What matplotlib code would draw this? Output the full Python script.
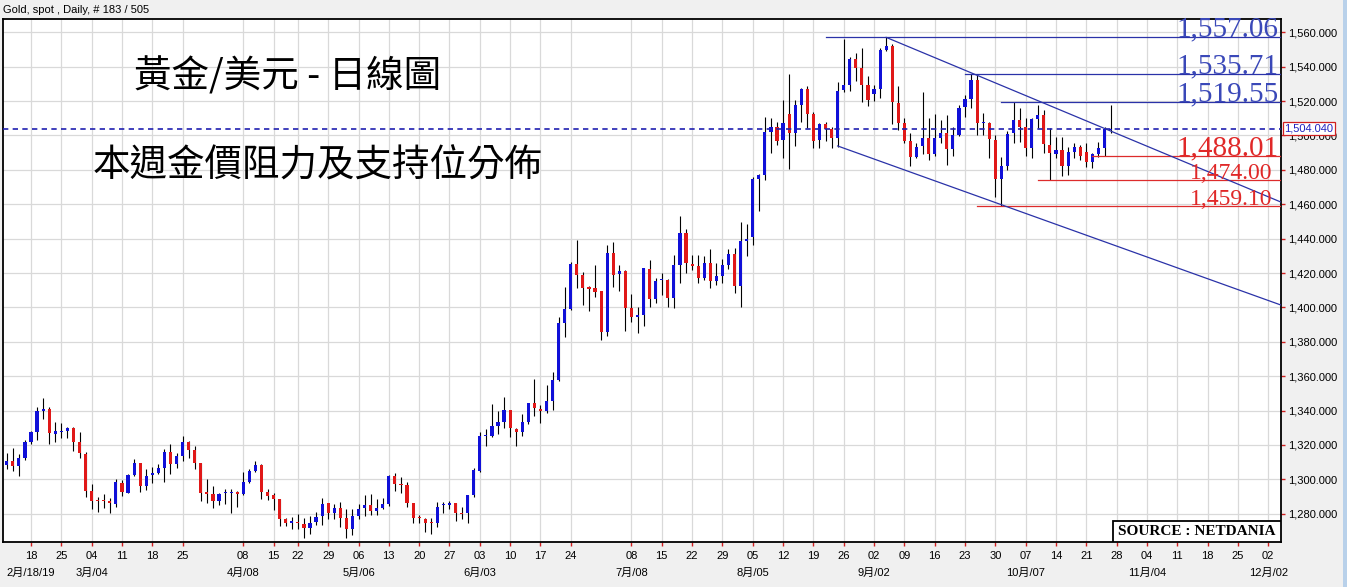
import matplotlib
matplotlib.use("Agg")
import matplotlib.pyplot as plt
import matplotlib.transforms as mtransforms
from matplotlib.patches import Rectangle
import numpy as np
import pandas as pd

plt.rcParams['font.family'] = ['Liberation Sans', 'Noto Sans CJK TC', 'DejaVu Sans']

# ---------------- data ----------------
first_day = "2019-02-12"
holidays = ["2019-04-19"]

opens = [1308.3, 1310.8, 1307.9, 1312.4, 1321.9, 1327.4, 1340.0, 1341.0, 1326.6, 1327.7,
         1328.2, 1329.9, 1321.9, 1314.7, 1293.3, 1287.6, 1287.8, 1287.2, 1285.9, 1297.8,
         1292.3, 1302.4, 1309.5, 1296.2, 1302.4, 1303.6, 1306.5, 1316.1, 1308.9, 1313.7,
         1321.9, 1317.2, 1309.5, 1291.8, 1291.7, 1287.4, 1291.9, 1292.2, 1292.5, 1291.3,
         1298.5, 1305.0, 1308.3, 1292.7, 1290.8, 1288.4, 1276.7, 1274.8, 1275.4, 1274.2,
         1271.7, 1275.2, 1278.7, 1286.1, 1280.2, 1283.1, 1277.3, 1271.3, 1278.7, 1283.5,
         1284.9, 1281.6, 1283.5, 1285.5, 1301.7, 1297.2, 1296.6, 1286.1, 1277.6, 1277.1,
         1274.5, 1274.8, 1284.9, 1285.0, 1286.1, 1280.2, 1280.2, 1290.8, 1305.0, 1325.0,
         1325.2, 1331.0, 1333.2, 1340.3, 1329.3, 1327.8, 1333.2, 1344.2, 1340.7, 1340.0,
         1345.6, 1357.8, 1390.8, 1399.1, 1425.3, 1418.9, 1411.2, 1411.1, 1409.6, 1385.9,
         1431.5, 1419.3, 1421.2, 1399.5, 1394.6, 1395.6, 1422.3, 1404.7, 1415.7, 1415.9,
         1405.7, 1424.7, 1443.1, 1425.3, 1424.1, 1417.3, 1425.6, 1415.6, 1418.3, 1424.7,
         1431.1, 1412.5, 1438.8, 1441.1, 1474.7, 1477.0, 1502.2, 1504.7, 1497.4, 1512.3,
         1501.6, 1517.7, 1526.8, 1512.5, 1497.4, 1506.7, 1503.6, 1498.3, 1526.4, 1529.3,
         1544.3, 1539.4, 1529.3, 1524.1, 1527.0, 1549.7, 1552.0, 1519.1, 1507.4, 1497.0,
         1487.7, 1493.9, 1498.7, 1489.2, 1498.7, 1501.6, 1491.9, 1500.3, 1516.4, 1521.0,
         1532.3, 1507.0, 1507.1, 1497.4, 1474.5, 1482.3, 1501.2, 1509.0, 1505.1, 1492.9,
         1509.6, 1511.9, 1494.5, 1489.2, 1491.6, 1482.3, 1490.6, 1493.5, 1490.2, 1484.8,
         1489.2, 1492.5, 1503.2]
highs = [1315.3, 1318.0, 1314.7, 1322.9, 1328.3, 1342.0, 1347.4, 1342.0, 1333.2, 1332.8,
         1330.7, 1330.7, 1327.8, 1315.7, 1297.2, 1289.8, 1291.3, 1289.4, 1300.5, 1299.7,
         1303.0, 1311.8, 1309.8, 1305.9, 1307.3, 1308.9, 1317.6, 1320.6, 1315.3, 1325.0,
         1322.5, 1319.2, 1309.5, 1300.1, 1296.2, 1292.3, 1294.6, 1294.2, 1293.3, 1304.4,
         1306.3, 1310.8, 1308.9, 1294.3, 1291.9, 1288.4, 1277.7, 1278.3, 1279.6, 1277.7,
         1278.7, 1281.0, 1289.0, 1286.5, 1285.5, 1286.9, 1282.6, 1282.6, 1285.5, 1290.8,
         1291.3, 1288.8, 1289.4, 1302.4, 1303.6, 1301.1, 1298.5, 1286.5, 1279.1, 1277.7,
         1277.7, 1286.9, 1286.9, 1287.4, 1286.5, 1284.1, 1291.0, 1306.9, 1327.8, 1329.1,
         1343.8, 1339.8, 1347.7, 1340.3, 1329.7, 1337.8, 1344.6, 1358.4, 1343.1, 1354.9,
         1362.3, 1394.6, 1411.7, 1426.6, 1439.2, 1420.8, 1412.5, 1424.7, 1409.6, 1436.3,
         1437.9, 1424.7, 1421.8, 1407.8, 1400.4, 1423.1, 1427.6, 1416.9, 1419.8, 1416.3,
         1430.5, 1453.4, 1445.4, 1430.5, 1430.5, 1429.9, 1433.8, 1425.6, 1428.2, 1433.8,
         1434.4, 1449.9, 1448.5, 1476.0, 1477.6, 1510.5, 1510.0, 1508.0, 1520.6, 1535.7,
         1520.6, 1527.8, 1528.8, 1513.9, 1507.1, 1508.0, 1505.1, 1531.3, 1556.1, 1545.8,
         1547.8, 1550.7, 1534.6, 1529.3, 1550.7, 1557.06, 1553.2, 1528.8, 1510.0, 1501.2,
         1495.4, 1525.1, 1510.0, 1512.5, 1509.0, 1511.9, 1504.7, 1517.7, 1523.5, 1535.71,
         1535.0, 1512.9, 1508.0, 1500.3, 1487.7, 1502.6, 1519.55, 1515.8, 1510.0, 1510.0,
         1517.7, 1514.8, 1504.2, 1498.9, 1498.9, 1493.5, 1495.8, 1494.5, 1495.4, 1489.6,
         1496.4, 1505.1, 1517.5]
lows = [1305.9, 1305.0, 1302.1, 1311.4, 1320.6, 1323.1, 1335.2, 1320.6, 1321.5, 1323.9,
        1323.9, 1316.7, 1312.2, 1289.8, 1282.6, 1281.0, 1283.5, 1280.2, 1284.1, 1290.4,
        1292.3, 1301.7, 1292.9, 1293.9, 1297.8, 1303.0, 1298.5, 1303.0, 1306.5, 1310.8,
        1312.2, 1305.9, 1287.4, 1286.5, 1283.3, 1284.9, 1285.5, 1280.6, 1284.0, 1291.1,
        1297.8, 1304.0, 1288.4, 1288.0, 1282.2, 1272.8, 1272.8, 1270.9, 1271.3, 1266.0,
        1268.0, 1273.2, 1273.2, 1276.7, 1277.1, 1272.4, 1266.0, 1267.8, 1277.1, 1278.7,
        1279.1, 1279.1, 1282.6, 1284.5, 1293.3, 1292.3, 1284.1, 1274.4, 1274.8, 1269.3,
        1268.5, 1272.4, 1280.6, 1283.0, 1275.8, 1277.1, 1274.8, 1290.0, 1304.5, 1319.6,
        1324.8, 1326.4, 1329.7, 1324.8, 1319.6, 1325.2, 1332.0, 1336.9, 1332.6, 1338.4,
        1340.3, 1357.2, 1382.6, 1398.5, 1411.5, 1401.4, 1397.9, 1405.9, 1381.1, 1383.6,
        1412.1, 1409.6, 1386.5, 1391.7, 1385.3, 1389.4, 1400.4, 1402.8, 1407.2, 1400.4,
        1399.9, 1414.4, 1420.2, 1421.8, 1414.0, 1415.9, 1411.1, 1413.0, 1414.4, 1422.2,
        1408.6, 1400.4, 1429.9, 1436.3, 1456.3, 1474.1, 1490.0, 1494.5, 1487.1, 1480.3,
        1493.9, 1508.0, 1504.1, 1492.9, 1492.9, 1496.8, 1492.9, 1493.5, 1525.5, 1526.1,
        1531.7, 1519.6, 1517.3, 1520.0, 1522.0, 1549.1, 1506.4, 1503.2, 1495.8, 1482.2,
        1487.1, 1489.2, 1485.7, 1488.1, 1495.4, 1482.8, 1488.1, 1499.7, 1510.5, 1515.8,
        1500.3, 1500.3, 1487.1, 1464.4, 1459.1, 1479.9, 1495.8, 1496.4, 1488.1, 1487.1,
        1504.2, 1490.0, 1474.0, 1487.1, 1476.6, 1477.0, 1486.7, 1485.7, 1481.5, 1480.9,
        1487.7, 1488.1, 1501.2]
closes = [1310.8, 1307.9, 1312.2, 1321.9, 1327.4, 1340.0, 1341.0, 1326.8, 1328.2, 1328.0,
          1329.9, 1321.9, 1315.1, 1293.3, 1287.4, 1287.4, 1287.2, 1286.3, 1298.2, 1292.7,
          1302.4, 1309.5, 1296.2, 1301.7, 1303.6, 1306.5, 1316.1, 1308.9, 1313.7, 1321.9,
          1317.2, 1309.5, 1291.9, 1291.7, 1287.2, 1291.7, 1292.0, 1292.4, 1291.5, 1298.2,
          1305.0, 1308.3, 1292.7, 1290.4, 1288.8, 1277.1, 1274.8, 1275.6, 1274.4, 1271.7,
          1274.8, 1278.3, 1285.9, 1280.2, 1283.1, 1277.7, 1271.3, 1278.7, 1283.0, 1284.9,
          1281.6, 1283.5, 1285.5, 1301.7, 1297.2, 1296.6, 1286.5, 1277.7, 1277.5, 1274.8,
          1274.4, 1284.1, 1285.5, 1286.1, 1280.2, 1279.6, 1290.8, 1305.5, 1325.2, 1325.3,
          1331.0, 1333.2, 1340.3, 1329.7, 1327.8, 1333.2, 1344.2, 1341.7, 1340.0, 1345.6,
          1357.8, 1390.8, 1399.1, 1425.3, 1418.9, 1411.1, 1411.0, 1409.2, 1385.9, 1431.5,
          1418.9, 1421.2, 1399.5, 1394.6, 1395.6, 1422.7, 1404.7, 1415.4, 1416.0, 1405.7,
          1424.7, 1443.1, 1425.6, 1424.3, 1417.3, 1425.6, 1415.6, 1418.3, 1424.7, 1431.1,
          1412.5, 1438.6, 1439.8, 1474.7, 1477.0, 1501.8, 1505.1, 1497.0, 1507.0, 1501.6,
          1517.7, 1526.8, 1512.5, 1497.0, 1506.7, 1503.6, 1498.3, 1525.9, 1529.3, 1544.3,
          1539.4, 1529.3, 1520.6, 1527.0, 1549.7, 1552.0, 1519.2, 1507.4, 1497.0, 1487.7,
          1493.5, 1498.7, 1489.0, 1498.7, 1501.6, 1491.9, 1500.3, 1515.8, 1521.0, 1532.3,
          1507.4, 1507.1, 1497.8, 1474.5, 1482.3, 1500.7, 1509.0, 1505.1, 1492.9, 1509.6,
          1511.9, 1494.9, 1489.6, 1491.6, 1482.3, 1490.6, 1493.5, 1488.1, 1484.8, 1489.2,
          1492.5, 1503.6, 1504.04]

last_price = 1504.04

tick_dates = ["2019-02-18", "2019-02-25", "2019-03-04", "2019-03-11", "2019-03-18", "2019-03-25",
              "2019-04-08", "2019-04-15", "2019-04-22", "2019-04-29", "2019-05-06", "2019-05-13",
              "2019-05-20", "2019-05-27", "2019-06-03", "2019-06-10", "2019-06-17", "2019-06-24",
              "2019-07-08", "2019-07-15", "2019-07-22", "2019-07-29", "2019-08-05", "2019-08-12",
              "2019-08-19", "2019-08-26", "2019-09-02", "2019-09-09", "2019-09-16", "2019-09-23",
              "2019-09-30", "2019-10-07", "2019-10-14", "2019-10-21", "2019-10-28", "2019-11-04",
              "2019-11-11", "2019-11-18", "2019-11-25", "2019-12-02"]

resist_levels = [1557.06, 1535.71, 1519.55]
resist_starts = ["2019-08-21", "2019-09-23", "2019-10-01"]
support_levels = [1488.01, 1474.00, 1459.10]
support_starts = ["2019-10-22", "2019-10-09", "2019-09-25"]
support_sizes = [21, 17, 17]

channel_upper = [("2019-09-04", 1557.06), ("2019-12-04", 1461.4)]
channel_lower = [("2019-08-23", 1493.9), ("2019-12-04", 1401.5)]

header = "Gold, spot , Daily, # 183 / 505"
title1 = "黃金/美元 - 日線圖"
title2 = "本週金價阻力及支持位分佈"
source = "SOURCE : NETDANIA"

# ---------------- positions ----------------
days = pd.bdate_range(first_day, "2019-12-10")
days = days[~days.isin(pd.to_datetime(holidays))]
pos = {d.strftime("%Y-%m-%d"): i for i, d in enumerate(days)}
n = len(opens)
x = np.arange(n)
o = np.array(opens); h = np.array(highs); l = np.array(lows); c = np.array(closes)

W, H = 1347, 587
fig = plt.figure(figsize=(W / 100, H / 100), dpi=100, facecolor="#F0F0F0")
ax_l, ax_r, ax_t, ax_b = 2.7, 1280.7, 19.3, 542.3
ax = fig.add_axes([ax_l / W, 1 - ax_b / H, (ax_r - ax_l) / W, (ax_b - ax_t) / H])
ax.set_facecolor("white")

px_per_day = 6.065
x0 = pos["2019-02-18"]
ax.set_xlim(x0 - (31 - ax_l) / px_per_day, x0 + (ax_r - 31) / px_per_day)
ax.set_ylim(1263.4, 1567.56)

# grid
tick_pos = [pos[d] for d in tick_dates]
ax.set_xticks(tick_pos)
ax.set_xticklabels([d[8:10] for d in tick_dates])
ax.set_yticks(np.arange(1280, 1561, 20))
ax.set_yticklabels([f"{v:,.3f}" for v in np.arange(1280, 1561, 20)])
ax.yaxis.tick_right()
ax.grid(True, color="#D9D9D9", lw=0.9, zorder=0)
ax.set_axisbelow(True)
ax.tick_params(axis="both", color="#D02020", length=3, width=1, labelsize=8, labelcolor="black")
ax.tick_params(axis="x", pad=3)
ax.tick_params(axis="y", pad=2)
for s in ax.spines.values():
    s.set_linewidth(1.3)
    s.set_color("black")

# month labels
trans_b = mtransforms.blended_transform_factory(ax.transData, ax.transAxes)
prev_m = None
for d in tick_dates:
    dt = pd.Timestamp(d)
    if dt.month != prev_m:
        lab = f"{dt.month}月/{dt.day:02d}"
        if prev_m is None:
            lab += f"/{dt.year % 100:02d}"
        ax.text(pos[d], -(573 - ax_b) / (ax_b - ax_t), lab, transform=trans_b,
                ha="center", va="center", fontsize=8, clip_on=False)
        prev_m = dt.month

# candles
up = c >= o
blue = "#1010D8"
red = "#E01818"
ax.vlines(x, l, h, color="black", lw=0.8, zorder=2)
body_b = np.minimum(o, c)
body_h = np.maximum(np.abs(c - o), 0.7)
ax.bar(x, body_h, bottom=body_b, width=0.52, color=np.where(up, blue, red), lw=0, zorder=3)

# last price dashed line
ax.axhline(last_price, color="#2020B0", lw=1.2, ls=(0, (3.2, 2.6)), zorder=4)

# level lines and labels
trans_r = mtransforms.blended_transform_factory(ax.transAxes, ax.transData)
xmax = ax.get_xlim()[1]
for v, st in zip(resist_levels, resist_starts):
    ax.plot([pos[st], xmax], [v, v], color="#2A32A8", lw=0.9, zorder=4)
    ax.text(1 - 2.5 / (ax_r - ax_l), v + 0.4, f"{v:,.2f}", transform=trans_r, ha="right",
            va="baseline", fontsize=21, family="Liberation Serif", color="#3A48B8", zorder=6)
for v, st, fs in zip(support_levels, support_starts, support_sizes):
    ax.plot([pos[st], xmax], [v, v], color="#DD2B2B", lw=0.9, zorder=4)
    xr = 1 - 2.5 / (ax_r - ax_l) if fs > 18 else 1 - 8.5 / (ax_r - ax_l)
    ax.text(xr, v + 0.4, f"{v:,.2f}", transform=trans_r, ha="right",
            va="baseline", fontsize=fs, family="Liberation Serif", color="#E02828", zorder=6)

# channel
for line in (channel_upper, channel_lower):
    ax.plot([pos[line[0][0]], pos[line[1][0]]], [line[0][1], line[1][1]],
            color="#2A32A8", lw=0.9, zorder=4)

# current price box
ax.text(1 + 3.5 / (ax_r - ax_l), last_price, f"{last_price:,.3f}", transform=trans_r,
        ha="left", va="center", fontsize=8, color="#2020C0", clip_on=False, zorder=10,
        bbox=dict(boxstyle="square,pad=0.12", fc="white", ec="#D02020", lw=0.9))

# source box
bx0 = (1113 - ax_l) / (ax_r - ax_l)
bh = (ax_b - 521) / (ax_b - ax_t)
ax.add_patch(Rectangle((bx0, 0), 1 - bx0, bh, transform=ax.transAxes, fc="white",
                       ec="black", lw=1.3, zorder=7))
ax.text((bx0 + 1) / 2, bh / 2, source, transform=ax.transAxes, ha="center", va="center",
        fontsize=11, family="Liberation Serif", weight="bold", zorder=8)

# titles
fig.text(287.5 / W, 1 - 76.5 / H, title1, ha="center", va="center", fontsize=27,
         family=["Noto Sans CJK TC", "DejaVu Sans"], color="black")
fig.text(317.5 / W, 1 - 166.5 / H, title2, ha="center", va="center", fontsize=27,
         family=["Noto Sans CJK TC", "DejaVu Sans"], color="black")
fig.text(3 / W, 1 - 10 / H, header, ha="left", va="center", fontsize=8)

# right window strip
fig.patches.append(Rectangle((1342.5 / W, 0), 5 / W, 1, transform=fig.transFigure,
                             fc="#B9D1EA", ec="none", zorder=0))

fig.savefig("out.png", dpi=100, facecolor=fig.get_facecolor())
